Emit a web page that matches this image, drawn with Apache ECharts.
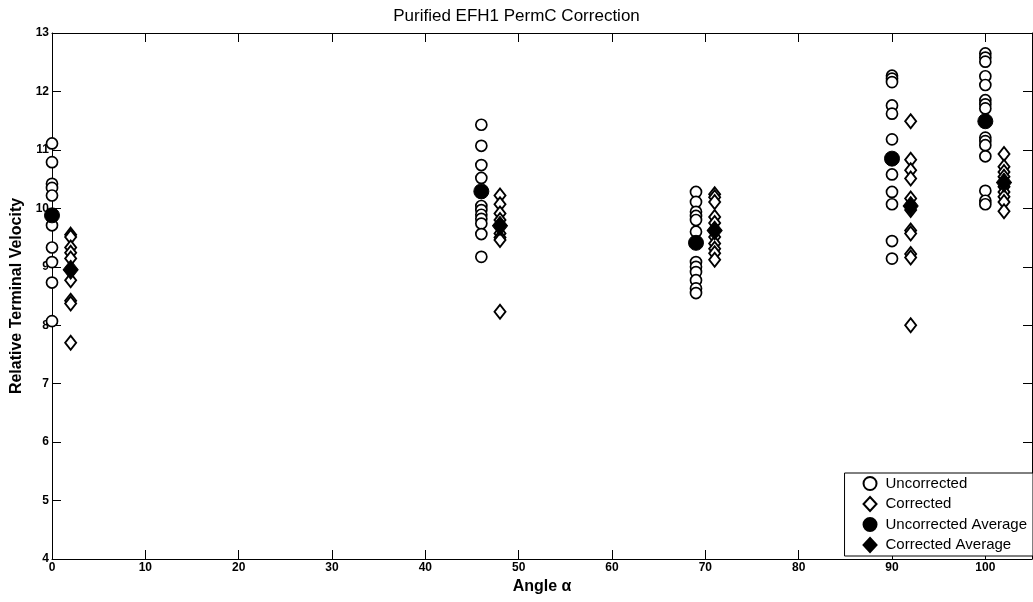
<!DOCTYPE html>
<html>
<head>
<meta charset="utf-8">
<script src="https://cdn.jsdelivr.net/npm/echarts@6/dist/echarts.min.js"></script>
<style>
html,body{margin:0;padding:0;background:#fff;}
#chart{width:1033px;height:602px;}
</style>
</head>
<body>
<div id="chart"></div>
<script>
// angles where each group was measured
var uncorrAngles = [0, 46, 69, 90, 100];
var corrAngles = [2, 48, 71, 92, 102];

// individual runs, one list per angle
var uncorrected = [
	[11.11, 10.79, 10.42, 10.35, 10.22, 9.85, 9.71, 9.33, 9.08, 8.73, 8.07],
	[11.43, 11.07, 10.74, 10.52, 10.04, 9.97, 9.89, 9.82, 9.74, 9.56, 9.17],
	[10.28, 10.11, 9.94, 9.87, 9.80, 9.60, 9.08, 9.00, 8.91, 8.77, 8.63, 8.55],
	[12.27, 12.22, 12.16, 11.76, 11.62, 11.18, 10.58, 10.28, 10.07, 9.44, 9.14],
	[12.65, 12.58, 12.51, 12.26, 12.11, 11.85, 11.78, 11.71, 11.21, 11.15, 11.08, 10.89, 10.30, 10.13, 10.07]
];
var corrected = [
	[9.55, 9.51, 9.33, 9.24, 9.14, 8.77, 8.42, 8.37, 7.70],
	[10.22, 10.07, 9.91, 9.80, 9.57, 9.50, 9.46, 8.23],
	[10.24, 10.19, 10.11, 9.85, 9.75, 9.51, 9.40, 9.31, 9.23, 9.12],
	[11.49, 10.83, 10.65, 10.51, 10.17, 9.97, 9.62, 9.57, 9.22, 9.16, 8.00],
	[10.93, 10.71, 10.62, 10.54, 10.37, 10.28, 10.20, 10.11, 9.95]
];

// averages
var uncorrAvg = [9.88, 10.29, 9.41, 10.85, 11.49];
var corrAvg = [8.95, 9.70, 9.62, 10.04, 10.44];

function points(angles, lists) {
	var out = [];
	for (var i = 0; i < angles.length; i++) {
		for (var j = 0; j < lists[i].length; j++) {
			out.push([angles[i], lists[i][j]]);
		}
	}
	return out;
}
function avgPoints(angles, vals) {
	var out = [];
	for (var i = 0; i < angles.length; i++) {
		out.push([angles[i], vals[i]]);
	}
	return out;
}

var font = 'Arial, "Liberation Sans", sans-serif';
var myChart = echarts.init(document.getElementById('chart'));

var tickLabel = {
	color: '#000',
	fontFamily: font,
	fontWeight: 'bold',
	fontSize: 12
};

var option = {
	backgroundColor: '#fff',
	animation: false,
	title: {
		text: 'Purified EFH1 PermC Correction',
		left: 'center',
		top: 3,
		textStyle: {
			fontFamily: font,
			fontWeight: 'normal',
			fontSize: 17,
			color: '#000'
		}
	},
	grid: {
		left: 52,
		right: 1,
		top: 33,
		bottom: 43
	},
	legend: {
		orient: 'vertical',
		right: 0,
		bottom: 46,
		backgroundColor: '#fff',
		borderColor: '#000',
		borderWidth: 1,
		padding: [3, 6, 3, 18],
		itemGap: 5,
		itemWidth: 13,
		itemHeight: 14,
		textStyle: {
			fontFamily: font,
			fontSize: 15,
			lineHeight: 14,
			padding: [0, 0, 0, 4],
			color: '#000'
		},
		data: ['Uncorrected', 'Corrected', 'Uncorrected Average', 'Corrected Average']
	},
	xAxis: [{
		type: 'value',
		min: 0,
		max: 105,
		interval: 10,
		name: 'Angle α',
		nameLocation: 'middle',
		nameGap: 17,
		nameTextStyle: {
			fontFamily: font,
			fontWeight: 'bold',
			fontSize: 16,
			color: '#000'
		},
		axisLine: {show: true, lineStyle: {color: '#000', width: 1}},
		axisTick: {show: true, inside: true, length: 9, lineStyle: {color: '#000'}},
		axisLabel: Object.assign({margin: 3, showMaxLabel: false}, tickLabel),
		splitLine: {show: false}
	}, {
		type: 'value',
		position: 'top',
		min: 0,
		max: 105,
		interval: 10,
		axisLine: {show: true, lineStyle: {color: '#000', width: 1}},
		axisTick: {show: true, inside: true, length: 9, lineStyle: {color: '#000'}},
		axisLabel: {show: false},
		splitLine: {show: false}
	}],
	yAxis: [{
		type: 'value',
		position: 'left',
		min: 4,
		max: 13,
		interval: 1,
		name: 'Relative Terminal Velocity',
		nameLocation: 'middle',
		nameGap: 24,
		nameTextStyle: {
			fontFamily: font,
			fontWeight: 'bold',
			fontSize: 16,
			color: '#000'
		},
		axisLine: {show: true, lineStyle: {color: '#000', width: 1}},
		axisTick: {show: true, inside: true, length: 9, lineStyle: {color: '#000'}},
		axisLabel: Object.assign({margin: 3}, tickLabel),
		splitLine: {show: false}
	}, {
		type: 'value',
		position: 'right',
		min: 4,
		max: 13,
		interval: 1,
		axisLine: {show: true, onZero: false, lineStyle: {color: '#000', width: 1}},
		axisTick: {show: true, inside: true, length: 9, lineStyle: {color: '#000'}},
		axisLabel: {show: false},
		splitLine: {show: false}
	}],
	series: [{
		name: 'Uncorrected',
		type: 'scatter',
		symbol: 'circle',
		symbolSize: 11,
		data: points(uncorrAngles, uncorrected),
		itemStyle: {color: '#fff', borderColor: '#000', borderWidth: 1.7, opacity: 1}
	}, {
		name: 'Corrected',
		type: 'scatter',
		symbol: 'diamond',
		symbolSize: [11, 14],
		data: points(corrAngles, corrected),
		itemStyle: {color: '#fff', borderColor: '#000', borderWidth: 1.9, opacity: 1}
	}, {
		name: 'Uncorrected Average',
		type: 'scatter',
		symbol: 'circle',
		symbolSize: 15,
		data: avgPoints(uncorrAngles, uncorrAvg),
		itemStyle: {color: '#000', borderColor: '#000', borderWidth: 1, opacity: 1}
	}, {
		name: 'Corrected Average',
		type: 'scatter',
		symbol: 'diamond',
		symbolSize: [15, 19],
		data: avgPoints(corrAngles, corrAvg),
		itemStyle: {color: '#000', borderColor: '#000', borderWidth: 1, opacity: 1}
	}]
};
myChart.setOption(option);
</script>
</body>
</html>
